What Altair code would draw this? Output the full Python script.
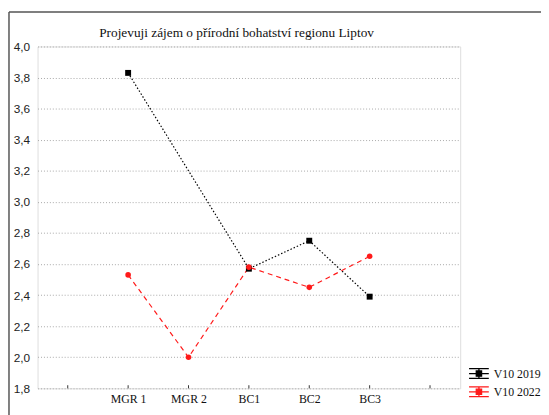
import json
import altair as alt
import pandas as pd

title_text = "Projevuji zájem o přírodní bohatství regionu Liptov"
categories = ["MGR 1", "MGR 2", "BC1", "BC2", "BC3"]
series_names = ["V10 2019", "V10 2022"]
v2019 = [3.83, None, 2.57, 2.75, 2.39]
v2022 = [2.53, 2.00, 2.58, 2.45, 2.65]
y_ticks = [1.8, 2.0, 2.2, 2.4, 2.6, 2.8, 3.0, 3.2, 3.4, 3.6, 3.8, 4.0]
series_colors = ["#000000", "#ff1a1a"]
series_dashes = [[1.5, 2], [5, 4]]

tick_labels = [""] + categories + [""]

rows = []
for name, vals in zip(series_names, [v2019, v2022]):
    for i, (c, v) in enumerate(zip(categories, vals)):
        if v is not None:
            rows.append({"series": name, "cat": c, "pos": i + 1, "value": v})
df = pd.DataFrame(rows)
ticks_df = pd.DataFrame({"pos": list(range(len(tick_labels)))})

x_scale = alt.Scale(domain=[-0.5, len(tick_labels) - 0.5], nice=False, zero=False)
y_scale = alt.Scale(domain=[y_ticks[0], y_ticks[-1]], nice=False, zero=False)

x_axis = alt.Axis(
    values=list(range(len(tick_labels))),
    labelExpr=json.dumps(tick_labels) + "[round(datum.value)]",
    grid=False, ticks=False, domain=False, title=None,
    labelFont="Liberation Serif", labelFontSize=12, labelColor="#111",
    labelPadding=5, labelOverlap=False,
)
y_axis = alt.Axis(
    values=y_ticks,
    labelExpr="replace(format(datum.value, '.1f'), '.', ',')",
    grid=True, gridDash=[1, 2], gridColor="#a8a8a8", gridWidth=1,
    ticks=False, domain=False, title=None,
    labelFont="Liberation Sans", labelFontSize=12, labelColor="#222",
    labelPadding=8, labelOverlap=False, labelFlush=False,
)
x_enc = alt.X("pos:Q", scale=x_scale, axis=x_axis)
y_enc = alt.Y("value:Q", scale=y_scale, axis=y_axis)

color_scale = alt.Scale(domain=series_names, range=series_colors)

legend_path = ("M-1.67,-0.83H1.67M-1.67,0.83H1.67M0,-0.83V0.83M-1.67,0H1.67"
               "M-0.45,-0.45H0.45V0.45H-0.45Z")
legend = alt.Legend(
    title=None, orient="none", legendX=441, legendY=325,
    symbolType=legend_path, symbolSize=144, symbolStrokeWidth=1.3,
    symbolOpacity=1,
    labelFont="Liberation Serif", labelFontSize=12, labelColor="#111",
    labelOffset=8, rowPadding=2.5, padding=0,
)
color_enc = alt.Color("series:N", scale=color_scale, legend=legend)

line_layers = []
for name, dash in zip(series_names, series_dashes):
    line_layers.append(
        alt.Chart(df).transform_filter(alt.datum.series == name)
        .mark_line(strokeWidth=1.2, strokeDash=dash)
        .encode(x=x_enc, y=y_enc, color=color_enc, order="pos:Q")
    )

squares = alt.Chart(df).transform_filter(
    alt.datum.series == series_names[0]
).mark_square(size=36, opacity=1).encode(
    x=x_enc, y=y_enc, color=color_enc,
)

circles = alt.Chart(df).transform_filter(
    alt.datum.series == series_names[1]
).mark_circle(size=32, opacity=1).encode(
    x=x_enc, y=y_enc, color=color_enc,
)

xticks = alt.Chart(ticks_df).mark_rule(color="#333", strokeWidth=1).encode(
    x=x_enc,
    y=alt.datum(y_ticks[0], scale=y_scale, axis=y_axis),
    y2=alt.datum(y_ticks[0] + 0.02),
)

frame_data = alt.Data(values=[{}])
frame_left = alt.Chart(frame_data).mark_rule(color="#555", strokeWidth=1.5).encode(
    x=alt.value(-29), y=alt.value(-35), y2=alt.value(375)
)
frame_top = alt.Chart(frame_data).mark_rule(color="#555", strokeWidth=1.5).encode(
    x=alt.value(-29), x2=alt.value(515), y=alt.value(-35)
)
title_mark = alt.Chart(frame_data).mark_text(
    text=title_text, font="Liberation Serif", fontSize=13.5, color="#111",
    align="center", baseline="alphabetic",
).encode(x=alt.value(202), y=alt.value(-10))

chart = alt.layer(frame_left, frame_top, title_mark, *line_layers, xticks, squares, circles).properties(
    width=429,
    height=347,
    autosize=alt.AutoSizeParams(type="none"),
    padding={"left": 30, "top": 36, "right": 82, "bottom": 24},
).configure_view(
    stroke="#3a3a3a", strokeWidth=1.3
).configure(
    background="white"
)

chart.save("out.html", embed_options={"renderer": "svg", "actions": False})
